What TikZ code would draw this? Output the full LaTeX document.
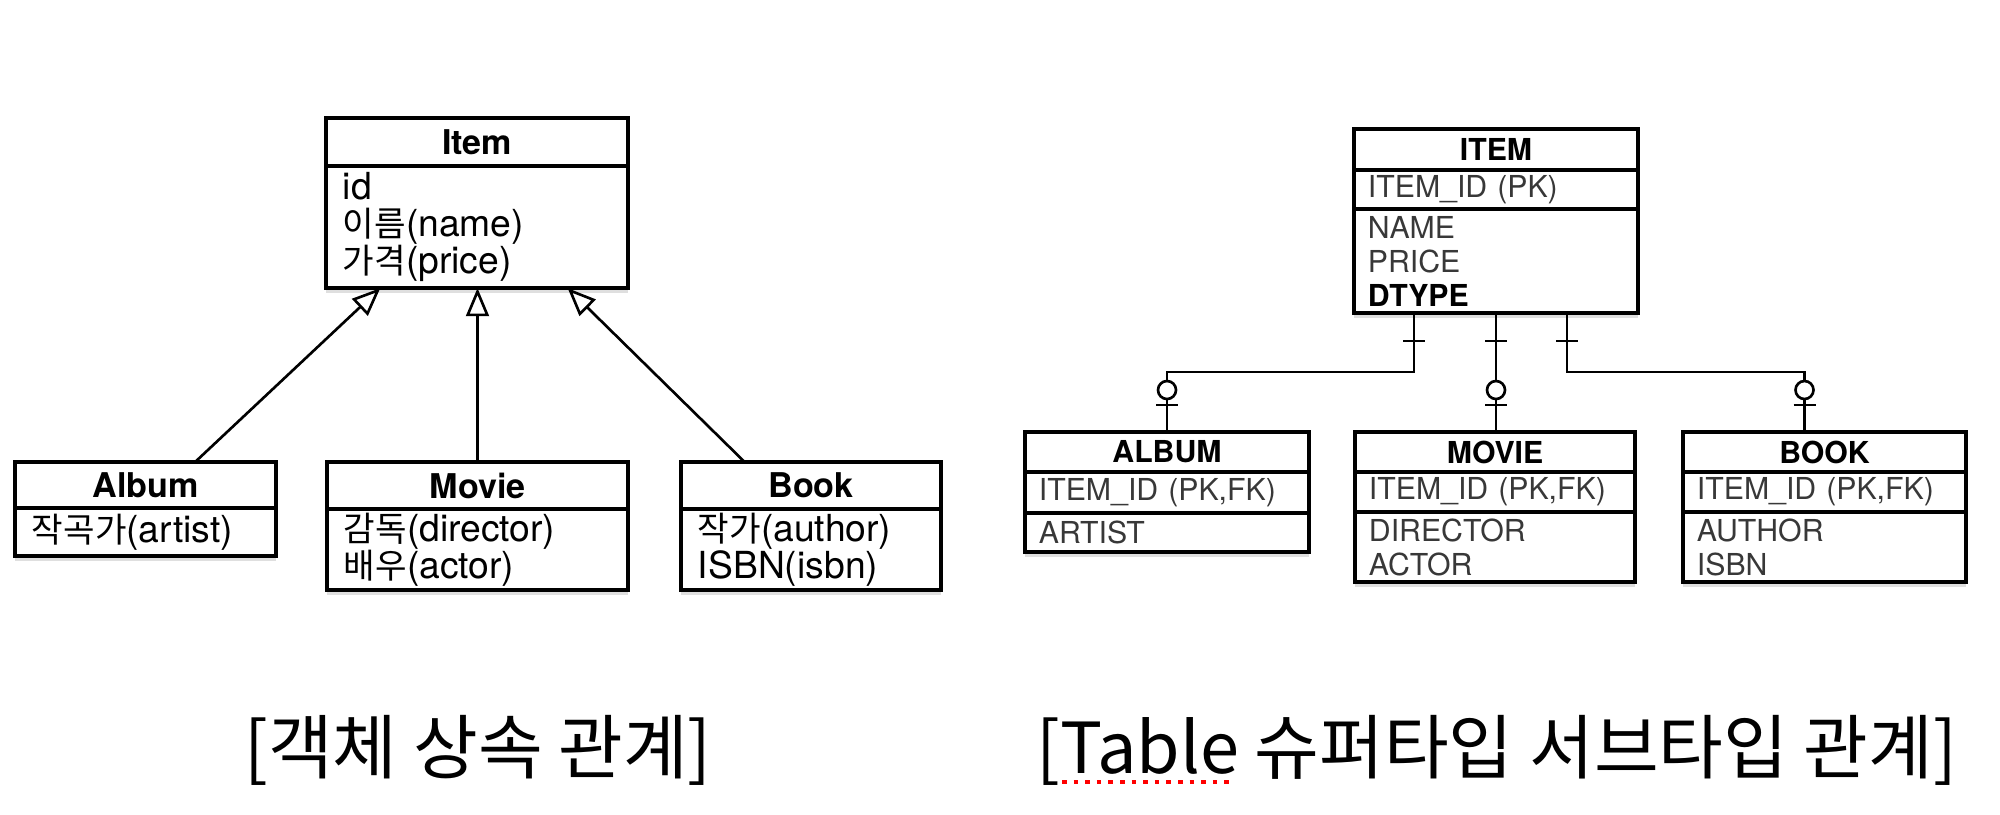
\documentclass[tikz,border=0pt]{standalone}
\usepackage{fontspec}
\setmainfont{TeX Gyre Heros}
\newfontfamily\kr[Scale=0.92]{Noto Sans CJK KR}
\newfontfamily\capfont{Noto Sans CJK KR}
\usetikzlibrary{calc,arrows.meta,shadows}

\tikzset{
    box/.style={draw, line width=1.05pt, fill=white, inner ysep=0pt, outer sep=0pt, anchor=north,
        drop shadow={shadow xshift=0pt, shadow yshift=-1.3pt, opacity=.25}},
    umltitle/.style={box, inner xsep=0pt, minimum width=#1, font=\fontsize{9.7pt}{10.5pt}\selectfont\bfseries},
    umlattr/.style={box, inner xsep=0.17cm, text width=#1, align=left, font=\fontsize{10.6pt}{10.5pt}\selectfont},
    ertitle/.style={box, inner xsep=0pt, minimum width=#1, font=\fontsize{8.6pt}{9.7pt}\selectfont\bfseries},
    erattr/.style={box, inner xsep=0.14cm, text width=#1, align=left, text=black!78, font=\fontsize{8.6pt}{9.7pt}\selectfont},
    inherit/.style={line width=0.75pt, -{Triangle[length=8pt, width=6.5pt, fill=white]}},
    erline/.style={line width=0.75pt},
    onebar/.pic={\draw[erline] (-11,0) -- (11,0);},
    zeroone/.pic={\draw[erline] (-11,15) -- (11,15);
                  \draw[erline, fill=white] (0,0) circle (9);},
    caption/.style={font=\capfont\fontsize{20pt}{22pt}\selectfont, inner sep=0pt}
}

\begin{document}
\begin{tikzpicture}[x=0.01cm, y=-0.01cm]
    \useasboundingbox (0,0) rectangle (2000,814);

    % object side: classes
        \node[umltitle=3.02cm, minimum height=0.48cm] (itemT) at (477,118) {Item};
        \node[umlattr=2.68cm, minimum height=1.22cm] (itemA) at (itemT.south) {id\\{\kr 이름}(name)\\{\kr 가격}(price)};

        \node[umltitle=2.61cm, minimum height=0.46cm] (albumT) at (145.5,462) {Album};
        \node[umlattr=2.27cm, minimum height=0.48cm] (albumA) at (albumT.south) {{\kr 작곡가}(artist)};

        \node[umltitle=3.01cm, minimum height=0.47cm] (movieT) at (477.5,462) {Movie};
        \node[umlattr=2.67cm, minimum height=0.81cm] (movieA) at (movieT.south) {{\kr 감독}(director)\\{\kr 배우}(actor)};

        \node[umltitle=2.60cm, minimum height=0.47cm] (bookT) at (811,462) {Book};
        \node[umlattr=2.26cm, minimum height=0.81cm] (bookA) at (bookT.south) {{\kr 작가}(author)\\ISBN(isbn)};

    % object side: inheritance arrows
        \draw[inherit] ($(albumT.north)!0.38!(albumT.north east)$) -- ($(itemA.south)!0.64!(itemA.south west)$);
        \draw[inherit] (movieT.north) -- (movieT.north |- itemA.south);
        \draw[inherit] ($(bookT.north)!0.51!(bookT.north west)$) -- ($(itemA.south)!0.6!(itemA.south east)$);

    % table side: tables
        \node[ertitle=2.84cm, minimum height=0.41cm] (ITEMT) at (1496,129) {ITEM};
        \node[erattr=2.56cm, minimum height=0.39cm] (ITEMK) at (ITEMT.south) {ITEM\_ID (PK)};
        \node[erattr=2.56cm, minimum height=1.04cm] (ITEMA) at (ITEMK.south) {NAME\\PRICE\\\textcolor{black}{\bfseries DTYPE}};

        \node[ertitle=2.84cm, minimum height=0.40cm] (ALBUMT) at (1167,432) {ALBUM};
        \node[erattr=2.56cm, minimum height=0.41cm] (ALBUMK) at (ALBUMT.south) {ITEM\_ID (PK,FK)};
        \node[erattr=2.56cm, minimum height=0.39cm] (ALBUMA) at (ALBUMK.south) {ARTIST};

        \node[ertitle=2.80cm, minimum height=0.40cm] (MOVIET) at (1495,432) {MOVIE};
        \node[erattr=2.52cm, minimum height=0.40cm] (MOVIEK) at (MOVIET.south) {ITEM\_ID (PK,FK)};
        \node[erattr=2.52cm, minimum height=0.70cm] (MOVIEA) at (MOVIEK.south) {DIRECTOR\\ACTOR};

        \node[ertitle=2.83cm, minimum height=0.40cm] (BOOKT) at (1824.5,432) {BOOK};
        \node[erattr=2.55cm, minimum height=0.40cm] (BOOKK) at (BOOKT.south) {ITEM\_ID (PK,FK)};
        \node[erattr=2.55cm, minimum height=0.70cm] (BOOKA) at (BOOKK.south) {AUTHOR\\ISBN};

    % table side: relations
        \draw[erline] ($(ITEMA.south)+(-82,0)$) -- ++(0,59) -| (ALBUMT.north);
        \draw[erline] (ITEMA.south) -- (ITEMA.south |- MOVIET.north);
        \draw[erline] ($(ITEMA.south)+(71,0)$) -- ++(0,59) -| ($(BOOKT.north)+(-20,0)$);

        \pic at ($(ITEMA.south)+(-82,28)$) {onebar};
        \pic at ($(ITEMA.south)+(0,28)$) {onebar};
        \pic at ($(ITEMA.south)+(71,28)$) {onebar};
        \pic at ($(ALBUMT.north)+(0,-42)$) {zeroone};
        \pic at ($(ITEMA.south |- MOVIET.north)+(0,-42)$) {zeroone};
        \pic at ($(BOOKT.north)+(-20,-42)$) {zeroone};

    % captions
        \node[caption] (capL) at (478,750) {[객체 상속 관계]};
        \node[caption] (capR) at (1497,750) {[Table 슈퍼타입 서브타입 관계]};
        \draw[red, dotted, line width=1.3pt] (1062,782) -- (1234,782);

\end{tikzpicture}
\end{document}
